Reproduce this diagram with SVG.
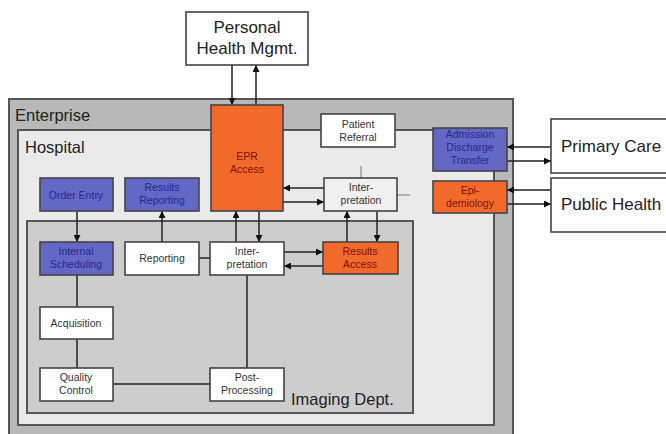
<svg xmlns="http://www.w3.org/2000/svg" width="666" height="434" viewBox="0 0 666 434">
  <defs>
    <marker id="arrow" viewBox="0 0 10 10" refX="10" refY="5" markerWidth="7" markerHeight="7" markerUnits="userSpaceOnUse" orient="auto">
      <path d="M0,0 L10,5 L0,10 Z" fill="#111"/>
    </marker>
  </defs>
  <style>
    text { font-family: "Liberation Sans", Arial, sans-serif; text-anchor: middle; }
    .zone { stroke: #555; stroke-width: 2; }
    .box { stroke: #444; stroke-width: 1.6; }
    .white { fill: #ffffff; }
    .grey { fill: #f0f0f0; }
    .blue { fill: #6367c6; }
    .orange { fill: #f26a2b; }
    .small { font-size: 10.5px; fill: #333; }
    .small-blue { font-size: 10.5px; fill: #26288c; }
    .small-red { font-size: 10.5px; fill: #7a1500; }
    .big { font-size: 17px; fill: #222; }
    .zlabel { font-size: 16.5px; fill: #222; text-anchor: start; }
    .link { stroke: #222; stroke-width: 1.5; fill: none; }
    .arr { marker-end: url(#arrow); }
    .tick { stroke: #777; stroke-width: 1; }
  </style>

  <rect width="666" height="434" fill="#ffffff"/>

  <!-- nested organisational zones -->
  <g id="enterprise">
    <rect class="zone" x="9" y="99" width="504" height="340" fill="#b8b8b8"/>
    <text class="zlabel" x="15" y="121">Enterprise</text>
  </g>
  <g id="hospital">
    <rect class="zone" x="18" y="130" width="476" height="295" fill="#eaeaea"/>
    <text class="zlabel" x="25" y="153">Hospital</text>
  </g>
  <g id="imaging-dept">
    <rect class="zone" x="27" y="221" width="386" height="192" fill="#cdcdcd"/>
    <text class="zlabel" x="291" y="405">Imaging Dept.</text>
  </g>

  <!-- connectors -->
  <g id="connectors">
    <!-- Personal Health Mgmt <-> EPR Access -->
    <line class="link arr" x1="232" y1="65" x2="232" y2="105"/>
    <line class="link arr" x1="256" y1="105" x2="256" y2="65"/>
    <!-- EPR Access <-> hospital Interpretation -->
    <line class="link arr" x1="324" y1="188" x2="283" y2="188"/>
    <line class="link arr" x1="283" y1="202" x2="324" y2="202"/>
    <!-- EPR Access <-> imaging Interpretation -->
    <line class="link arr" x1="236" y1="242" x2="236" y2="211"/>
    <line class="link arr" x1="259" y1="211" x2="259" y2="242"/>
    <!-- hospital Interpretation <-> Results Access -->
    <line class="link arr" x1="347" y1="242" x2="347" y2="211"/>
    <line class="link arr" x1="377" y1="211" x2="377" y2="242"/>
    <!-- imaging Interpretation <-> Results Access -->
    <line class="link arr" x1="284" y1="252" x2="323" y2="252"/>
    <line class="link arr" x1="323" y1="266" x2="284" y2="266"/>
    <!-- ordering and reporting -->
    <line class="link arr" x1="77" y1="211" x2="77" y2="242"/>
    <line class="link arr" x1="162" y1="242" x2="162" y2="211"/>
    <line class="link" x1="199" y1="258" x2="210" y2="258"/>
    <!-- acquisition chain -->
    <line class="link" x1="77" y1="275" x2="77" y2="307"/>
    <line class="link" x1="77" y1="339" x2="77" y2="368"/>
    <line class="link" x1="113" y1="384" x2="210" y2="384"/>
    <line class="link" x1="247" y1="275" x2="247" y2="368"/>
    <!-- ADT / Epidemiology <-> external care -->
    <line class="link arr" x1="551" y1="147" x2="507" y2="147"/>
    <line class="link arr" x1="507" y1="161" x2="551" y2="161"/>
    <line class="link arr" x1="551" y1="190" x2="507" y2="190"/>
    <line class="link arr" x1="507" y1="204" x2="551" y2="204"/>
    <!-- faint stubs on hospital Interpretation -->
    <line class="tick" x1="361" y1="166" x2="361" y2="178"/>
    <line class="tick" x1="397" y1="195" x2="410" y2="195"/>
  </g>

  <!-- external nodes -->
  <g id="personal-health">
    <rect class="box white" x="186" y="12" width="122" height="53"/>
    <text class="big" x="247" y="33">Personal</text>
    <text class="big" x="247" y="54">Health Mgmt.</text>
  </g>
  <g id="primary-care">
    <rect class="box white" x="551" y="119" width="122" height="54"/>
    <text class="big" x="561" y="152" style="text-anchor:start">Primary Care</text>
  </g>
  <g id="public-health">
    <rect class="box white" x="551" y="178" width="122" height="54"/>
    <text class="big" x="561" y="210" style="text-anchor:start">Public Health</text>
  </g>

  <!-- enterprise / hospital nodes -->
  <g id="epr-access">
    <rect class="box orange" x="211" y="105" width="72" height="106"/>
    <text class="small-red" x="247" y="160">EPR</text>
    <text class="small-red" x="247" y="173">Access</text>
  </g>
  <g id="patient-referral">
    <rect class="box white" x="321" y="114" width="74" height="33"/>
    <text class="small" x="358" y="128">Patient</text>
    <text class="small" x="358" y="141">Referral</text>
  </g>
  <g id="hospital-interpretation">
    <rect class="box grey" x="324" y="178" width="73" height="33"/>
    <text class="small" x="361" y="191">Inter-</text>
    <text class="small" x="361" y="204">pretation</text>
  </g>
  <g id="admission-discharge-transfer">
    <rect class="box blue" x="433" y="128" width="74" height="43"/>
    <text class="small-blue" x="470" y="138">Admission</text>
    <text class="small-blue" x="470" y="151">Discharge</text>
    <text class="small-blue" x="470" y="164">Transfer</text>
  </g>
  <g id="epidemiology">
    <rect class="box orange" x="433" y="181" width="74" height="32"/>
    <text class="small-red" x="470" y="194">Epi-</text>
    <text class="small-red" x="470" y="207">demiology</text>
  </g>
  <g id="order-entry">
    <rect class="box blue" x="40" y="178" width="73" height="33"/>
    <text class="small-blue" x="76" y="198.5">Order Entry</text>
  </g>
  <g id="results-reporting">
    <rect class="box blue" x="125" y="178" width="74" height="33"/>
    <text class="small-blue" x="162" y="191">Results</text>
    <text class="small-blue" x="162" y="204">Reporting</text>
  </g>

  <!-- imaging department nodes -->
  <g id="internal-scheduling">
    <rect class="box blue" x="40" y="242" width="73" height="33"/>
    <text class="small-blue" x="76" y="255">Internal</text>
    <text class="small-blue" x="76" y="268">Scheduling</text>
  </g>
  <g id="reporting">
    <rect class="box white" x="125" y="242" width="74" height="33"/>
    <text class="small" x="162" y="262">Reporting</text>
  </g>
  <g id="imaging-interpretation">
    <rect class="box white" x="210" y="242" width="74" height="33"/>
    <text class="small" x="247" y="255">Inter-</text>
    <text class="small" x="247" y="268">pretation</text>
  </g>
  <g id="results-access">
    <rect class="box orange" x="323" y="242" width="75" height="32"/>
    <text class="small-red" x="360" y="255">Results</text>
    <text class="small-red" x="360" y="268">Access</text>
  </g>
  <g id="acquisition">
    <rect class="box white" x="40" y="307" width="73" height="32"/>
    <text class="small" x="76" y="326.5">Acquisition</text>
  </g>
  <g id="quality-control">
    <rect class="box white" x="40" y="368" width="73" height="33"/>
    <text class="small" x="76" y="381">Quality</text>
    <text class="small" x="76" y="394">Control</text>
  </g>
  <g id="post-processing">
    <rect class="box white" x="210" y="368" width="74" height="33"/>
    <text class="small" x="247" y="381">Post-</text>
    <text class="small" x="247" y="394">Processing</text>
  </g>
</svg>
